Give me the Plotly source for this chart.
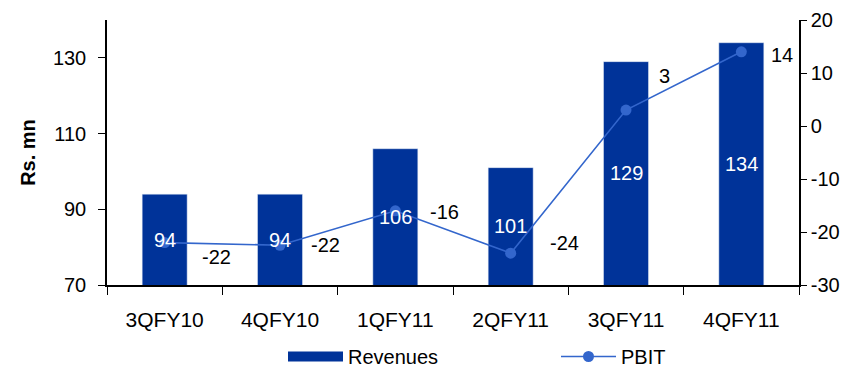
import plotly.graph_objects as go

categories = ["3QFY10", "4QFY10", "1QFY11", "2QFY11", "3QFY11", "4QFY11"]
revenues = [94, 94, 106, 101, 129, 134]
pbit = [-22, -22.5, -16, -24, 3, 14]
pbit_labels = ["-22", "-22", "-16", "-24", "3", "14"]
rev_axis_ticks = [70, 90, 110, 130]
pbit_axis_ticks = [-30, -20, -10, 0, 10, 20]
pbit_axis_text = ["-30", "-20", "-10", "0", "10", "20"]

# label offsets in pixels (style only)
lbl_dx = [52, 45, 49, 54, 38, 41]
lbl_dy = [-14, 0, -1, 10, 34, -3]

BAR = "#003399"
LINE = "#3366CC"
FONT = "Liberation Sans, Arial, sans-serif"
FS = 20
REV_MIN = 70

fig = go.Figure()
fig.add_trace(go.Bar(
    x=categories, y=revenues, name="Revenues", marker_color=BAR,
    showlegend=False, yaxis="y", hoverinfo="x+y",
))
# legend proxy for bars (wide rectangle swatch)
fig.add_trace(go.Scatter(
    x=[None], y=[None], mode="lines", name="Revenues",
    line=dict(color=BAR, width=11), yaxis="y",
))
fig.add_trace(go.Scatter(
    x=categories, y=pbit, name="PBIT", mode="lines+markers",
    line=dict(color=LINE, width=1.6), marker=dict(color=LINE, size=11),
    yaxis="y2",
))

# bar value labels, centred in the visible part of each bar
for c, v in zip(categories, revenues):
    fig.add_annotation(x=c, y=(REV_MIN + v) / 2, yref="y", text=str(v),
                       showarrow=False,
                       font=dict(size=FS, color="white", family=FONT))

for c, v, t, dx, dy in zip(categories, pbit, pbit_labels, lbl_dx, lbl_dy):
    fig.add_annotation(x=c, y=v, yref="y2", text=t, showarrow=False,
                       xshift=dx, yshift=dy,
                       font=dict(size=FS, color="black", family=FONT))

fig.update_layout(
    width=856, height=368,
    margin=dict(l=107, r=57, t=20, b=83, autoexpand=False),
    paper_bgcolor="white", plot_bgcolor="white",
    font=dict(family=FONT, size=FS, color="black"),
    bargap=0.61,
    xaxis=dict(showline=True, linecolor="black", linewidth=1.5,
               ticks="outside", tickson="boundaries", ticklen=8,
               tickcolor="black", showgrid=False, automargin=False,
               ticklabelstandoff=15,
               tickfont=dict(size=21)),
    yaxis=dict(range=[70, 140], tickvals=rev_axis_ticks,
               showline=True, linecolor="black", linewidth=1.5,
               ticks="outside", ticklen=7, tickcolor="black",
               showgrid=False, zeroline=False, automargin=False,
               ticklabelstandoff=8,
               title=dict(text="<b>Rs. mn</b>", font=dict(size=FS), standoff=12),
               tickfont=dict(size=FS)),
    yaxis2=dict(range=[-30, 20], tickvals=pbit_axis_ticks, ticktext=pbit_axis_text,
                overlaying="y", side="right",
                showline=True, linecolor="black", linewidth=1.5,
                ticks="outside", ticklen=6, tickcolor="black",
                showgrid=False, zeroline=False, automargin=False,
                tickfont=dict(size=FS)),
    legend=dict(orientation="h", x=(283 - 107) / 692, xanchor="left",
                y=(285 - 337) / 265, yanchor="top",
                font=dict(size=FS), entrywidth=203, itemwidth=55,
                traceorder="normal"),
)

fig.write_html("out.html")
